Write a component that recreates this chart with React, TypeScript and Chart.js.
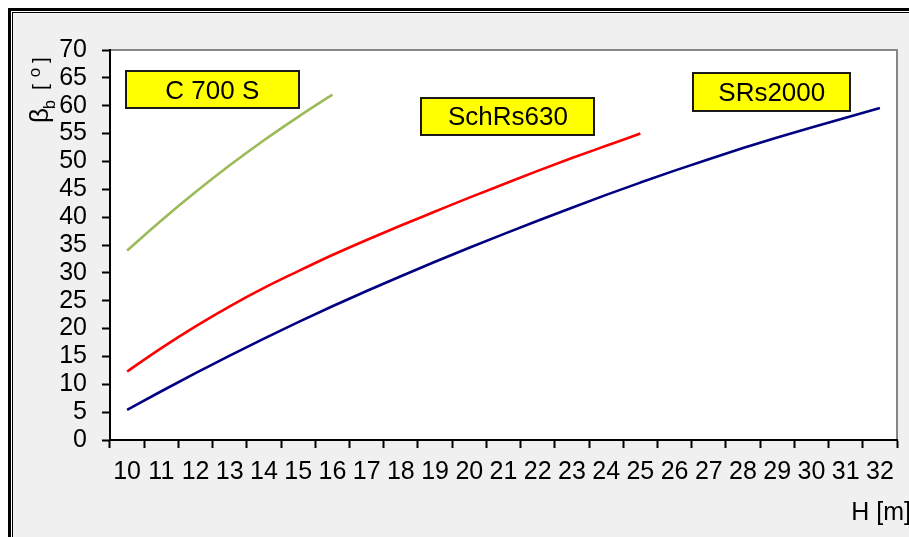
import React, { useEffect, useRef } from 'react';
import { Chart, registerables } from 'chart.js';

Chart.register(...registerables);

// ---- data ----
const H_CATEGORIES = ['10', '11', '12', '13', '14', '15', '16', '17', '18', '19', '20', '21', '22', '23', '24', '25', '26', '27', '28', '29', '30', '31', '32'];

const SRS2000_VALUES = [5.4, 8.75, 12.0, 15.15, 18.2, 21.15, 24.0, 26.75, 29.4, 32.0, 34.5, 36.95, 39.35, 41.7, 44.0, 46.2, 48.35, 50.4, 52.4, 54.3, 56.1, 57.85, 59.6];
const SCHRS630_VALUES = [12.3, 16.5, 20.4, 24.0, 27.3, 30.3, 33.2, 35.9, 38.5, 41.0, 43.5, 45.9, 48.3, 50.6, 52.8, 55.0];
const C700S_VALUES = [34.0, 39.4, 44.5, 49.3, 53.8, 58.0, 62.0];

const SERIES_NAMES = ['SRs2000', 'SchRs630', 'C 700 S'];

const Y_MIN = 0;
const Y_MAX = 70;
const Y_STEP = 5;

const X_TITLE = 'H [m]';

// annotation label boxes (category index, value) for centre
const LABEL_BOXES = [
  { text: 'C 700 S', cx: 2.49, cy: 62.9, w: 173, h: 37 },
  { text: 'SchRs630', cx: 11.13, cy: 58.1, w: 173, h: 37 },
  { text: 'SRs2000', cx: 18.84, cy: 62.5, w: 157, h: 38 },
];

const FONT = "'Liberation Sans', Arial, sans-serif";
const W = 909;
const H = 537;

export default function App() {
  const ref = useRef<HTMLCanvasElement>(null);

  useEffect(() => {
    document.body.style.margin = '0';
    const canvas = ref.current!;

    const bgPlugin = {
      id: 'bg',
      beforeDraw(chart: any) {
        const ctx = chart.ctx;
        const a = chart.chartArea;
        ctx.save();
        ctx.fillStyle = '#ffffff';
        ctx.fillRect(0, 0, W, H);
        ctx.fillStyle = '#000000';
        ctx.fillRect(8, 8, W - 8, 3);
        ctx.fillRect(8, 8, 3, H - 8);
        ctx.fillRect(12, 12, W - 12, 1);
        ctx.fillRect(12, 12, 1, H - 12);
        ctx.fillStyle = '#f0f0f0';
        ctx.fillRect(13, 13, W - 13, H - 13);
        ctx.fillStyle = '#ffffff';
        ctx.fillRect(a.left, a.top, a.right - a.left, a.bottom - a.top);
        ctx.strokeStyle = '#868686';
        ctx.lineWidth = 2;
        ctx.beginPath();
        ctx.moveTo(a.left, a.top);
        ctx.lineTo(a.right, a.top);
        ctx.lineTo(a.right, a.bottom);
        ctx.stroke();
        ctx.restore();
      },
    };

    const annPlugin = {
      id: 'ann',
      afterDraw(chart: any) {
        const ctx = chart.ctx;
        const xs = chart.scales.x;
        const ys = chart.scales.y;
        ctx.save();
        // label boxes
        for (const b of LABEL_BOXES) {
          const cx = xs.getPixelForValue(b.cx);
          const cy = ys.getPixelForValue(b.cy);
          const x0 = Math.round(cx - b.w / 2);
          const y0 = Math.round(cy - b.h / 2);
          ctx.fillStyle = '#ffff00';
          ctx.fillRect(x0, y0, b.w, b.h);
          ctx.strokeStyle = '#1a1a1a';
          ctx.lineWidth = 2;
          ctx.strokeRect(x0, y0, b.w, b.h);
          ctx.fillStyle = '#000000';
          ctx.font = `26px ${FONT}`;
          ctx.textAlign = 'center';
          ctx.textBaseline = 'middle';
          ctx.fillText(b.text, cx, cy + 2);
        }
        // x title
        ctx.font = `25px ${FONT}`;
        ctx.textAlign = 'right';
        ctx.textBaseline = 'alphabetic';
        ctx.fillStyle = '#000000';
        ctx.fillText(X_TITLE, 911, 520);

        // y title: beta_b [ o ]
        ctx.save();
        ctx.translate(48, 0);
        ctx.rotate(-Math.PI / 2);
        ctx.textAlign = 'left';
        ctx.textBaseline = 'alphabetic';
        ctx.font = `26px ${FONT}`;
        ctx.fillText('\u03b2', -123, 0);
        const bw = ctx.measureText('\u03b2').width;
        ctx.font = `16px ${FONT}`;
        ctx.fillText('b', -123 + bw - 1, 7);
        ctx.font = `21px ${FONT}`;
        ctx.textAlign = 'center';
        ctx.fillText('[', -87, -1);
        ctx.font = `17px ${FONT}`;
        ctx.fillText('o', -72.5, -8);
        ctx.font = `21px ${FONT}`;
        ctx.fillText(']', -60, -1);
        ctx.restore();

        ctx.restore();
      },
    };

    const tickFont = { family: FONT, size: 25, lineHeight: 1 };

    const chart = new Chart(canvas, {
      type: 'line',
      data: {
        labels: H_CATEGORIES,
        datasets: [
          {
            label: SERIES_NAMES[0],
            data: SRS2000_VALUES,
            borderColor: '#000080',
            borderWidth: 2.6,
            pointRadius: 0,
            cubicInterpolationMode: 'monotone',
            fill: false,
          },
          {
            label: SERIES_NAMES[1],
            data: SCHRS630_VALUES,
            borderColor: '#ff0000',
            borderWidth: 2.6,
            pointRadius: 0,
            cubicInterpolationMode: 'monotone',
            fill: false,
          },
          {
            label: SERIES_NAMES[2],
            data: C700S_VALUES,
            borderColor: '#9bbb59',
            borderWidth: 2.6,
            pointRadius: 0,
            cubicInterpolationMode: 'monotone',
            fill: false,
          },
        ],
      },
      options: {
        responsive: false,
        devicePixelRatio: 1,
        animation: false,
        layout: { padding: { left: 0, top: 50, right: 12, bottom: 0 } },
        plugins: {
          legend: { display: false },
          tooltip: { enabled: false },
        },
        scales: {
          x: {
            type: 'category',
            offset: true,
            grid: {
              offset: true,
              drawOnChartArea: false,
              drawTicks: true,
              tickLength: 8,
              tickWidth: 2,
              tickColor: '#000000',
              color: '#000000',
            },
            border: { display: true, color: '#000000', width: 2 },
            ticks: {
              font: tickFont,
              color: '#000000',
              padding: 12,
              maxRotation: 0,
              minRotation: 0,
              autoSkip: false,
            },
            afterFit: (s: any) => {
              s.height = 97;
            },
          },
          y: {
            min: Y_MIN,
            max: Y_MAX,
            grid: {
              drawOnChartArea: false,
              drawTicks: true,
              tickLength: 8,
              tickWidth: 2,
              tickColor: '#000000',
              color: '#000000',
            },
            border: { display: true, color: '#000000', width: 2 },
            ticks: {
              stepSize: Y_STEP,
              maxTicksLimit: 20,
              autoSkip: false,
              font: tickFont,
              color: '#000000',
              padding: 15,
            },
            afterFit: (s: any) => {
              s.width = 110;
            },
          },
        },
      },
      plugins: [bgPlugin, annPlugin],
    } as any);

    return () => chart.destroy();
  }, []);

  return (
    <canvas
      ref={ref}
      width={W}
      height={H}
      style={{ display: 'block', width: W + 'px', height: H + 'px' }}
    />
  );
}
